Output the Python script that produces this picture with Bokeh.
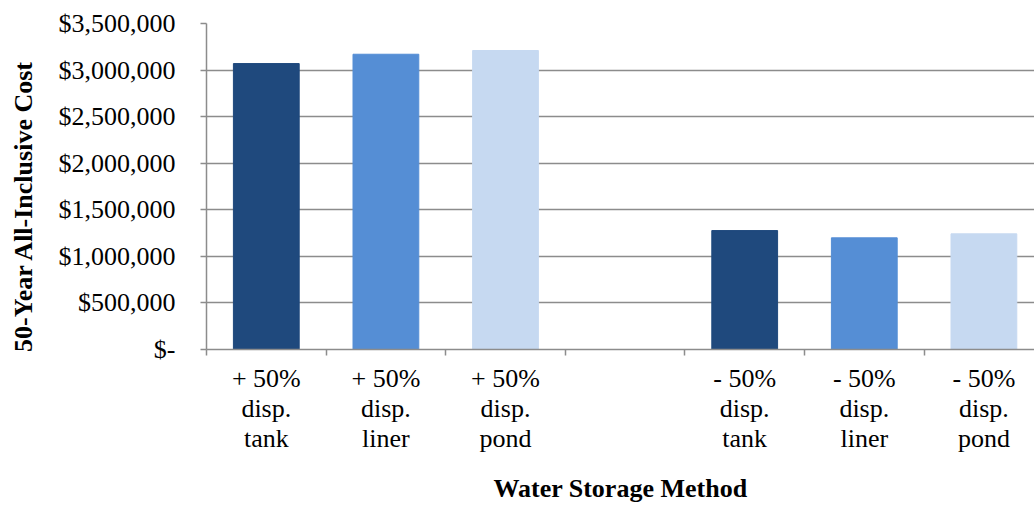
from bokeh.plotting import figure
from bokeh.models import Range1d, FixedTicker, ColumnDataSource
from bokeh.embed import file_html
from bokeh.resources import INLINE

categories = ["+ 50%\ndisp.\ntank", "+ 50%\ndisp.\nliner", "+ 50%\ndisp.\npond", "",
              "- 50%\ndisp.\ntank", "- 50%\ndisp.\nliner", "- 50%\ndisp.\npond"]
costs = [3070000, 3170000, 3210000, None, 1277000, 1199000, 1242000]
bar_colors = ["#1f497d", "#558ed5", "#c6d9f1", None, "#1f497d", "#558ed5", "#c6d9f1"]
y_ticks = [0, 500000, 1000000, 1500000, 2000000, 2500000, 3000000, 3500000]
y_labels = ["$-", "$500,000", "$1,000,000", "$1,500,000", "$2,000,000",
            "$2,500,000", "$3,000,000", "$3,500,000"]
y_title = "50-Year All-Inclusive Cost"
x_title = "Water Storage Method"

FONT = "Liberation Serif"

xs, tops, cols = [], [], []
for i, (c, v) in enumerate(zip(categories, costs)):
    if v is not None:
        xs.append(i + 0.5)
        tops.append(v)
        cols.append(bar_colors[i])
src = ColumnDataSource(dict(x=xs, top=tops, color=cols))

H = 506
cat_w = 119.6
frame_w = 828
p = figure(width=1034, height=H, output_backend="svg", toolbar_location=None,
           x_range=Range1d(0, frame_w / cat_w), y_range=Range1d(0, 3500000),
           min_border_left=206, min_border_right=0, min_border_top=23, min_border_bottom=0)
p.outline_line_color = None
p.background_fill_color = "white"

p.vbar(x="x", top="top", width=0.55, bottom=0, fill_color="color", line_color="color", source=src)

# y axis
p.yaxis.ticker = FixedTicker(ticks=y_ticks)
p.yaxis.major_label_overrides = {t: l for t, l in zip(y_ticks, y_labels)}
p.yaxis.major_label_text_font = FONT
p.yaxis.major_label_text_font_size = "26px"
p.yaxis.major_label_text_color = "black"
p.yaxis.major_tick_out = 6
p.yaxis.major_tick_in = 0
p.yaxis.minor_tick_line_color = None
p.yaxis.major_label_standoff = 25
p.yaxis.axis_line_color = "#8c8c8c"
p.yaxis.axis_line_width = 1.5
p.yaxis.major_tick_line_color = "#8c8c8c"
p.yaxis.major_tick_line_width = 1.5
# trailing non-breaking spaces nudge the centred title a little lower, as in the reference
p.yaxis.axis_label = y_title + "\u00a0" * 6
p.yaxis.axis_label_text_font = FONT
p.yaxis.axis_label_text_font_style = "bold"
p.yaxis.axis_label_text_font_size = "26px"
p.yaxis.axis_label_text_color = "black"
p.yaxis.axis_label_standoff = 18

# x axis
centers = [i + 0.5 for i in range(len(categories))]
bounds = [float(i) for i in range(len(categories) + 1)]
p.xaxis.ticker = FixedTicker(ticks=centers, minor_ticks=bounds)
p.xaxis.major_label_overrides = {c: l for c, l in zip(centers, categories)}
p.xaxis.major_label_text_font = FONT
p.xaxis.major_label_text_font_size = "26px"
p.xaxis.major_label_text_line_height = 1.05
p.xaxis.major_label_text_color = "black"
p.xaxis.major_tick_line_color = None
p.xaxis.minor_tick_out = 6
p.xaxis.minor_tick_in = 0
p.xaxis.minor_tick_line_color = "#8c8c8c"
p.xaxis.minor_tick_line_width = 1.5
p.xaxis.axis_line_color = "#8c8c8c"
p.xaxis.axis_line_width = 1.5
p.xaxis.major_label_standoff = 8
p.xaxis.axis_label = x_title
p.xaxis.axis_label_text_font = FONT
p.xaxis.axis_label_text_font_style = "bold"
p.xaxis.axis_label_text_font_size = "26px"
p.xaxis.axis_label_text_color = "black"
p.xaxis.axis_label_standoff = 18

p.xgrid.grid_line_color = None
p.ygrid.ticker = FixedTicker(ticks=y_ticks)
p.ygrid.grid_line_color = "#8c8c8c"
p.ygrid.grid_line_width = 1.5

open("out.html", "w").write(file_html(p, INLINE))
